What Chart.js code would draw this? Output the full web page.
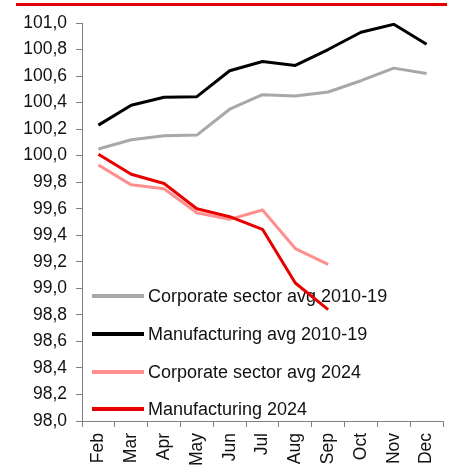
<!DOCTYPE html>
<html>
<head>
<meta charset="utf-8">
<script src="https://cdn.jsdelivr.net/npm/chart.js@4.4.1/dist/chart.umd.min.js"></script>
<style>
  body { margin: 0; background: #fff; }
  #wrap { width: 454px; height: 465px; }
</style>
</head>
<body>
<div id="wrap"><canvas id="lineChart" width="454" height="465"></canvas></div>
<script>
const months = ['Feb', 'Mar', 'Apr', 'May', 'Jun', 'Jul', 'Aug', 'Sep', 'Oct', 'Nov', 'Dec'];
const corpAvg = [100.05, 100.12, 100.15, 100.155, 100.35, 100.46, 100.45, 100.48, 100.565, 100.66, 100.62];
const manuAvg = [100.23, 100.38, 100.44, 100.445, 100.64, 100.71, 100.68, 100.80, 100.93, 100.99, 100.84];
const corp2024 = [99.93, 99.78, 99.75, 99.57, 99.52, 99.59, 99.30, 99.18];
const manu2024 = [100.01, 99.86, 99.79, 99.60, 99.54, 99.445, 99.04, 98.84];
const yTickLabels = ['98,0', '98,2', '98,4', '98,6', '98,8', '99,0', '99,2', '99,4', '99,6', '99,8',
  '100,0', '100,2', '100,4', '100,6', '100,8', '101,0'];

const font = 'Liberation Sans, Arial, sans-serif';

// red rule on top + legend inside the plot area
const decor = {
  id: 'decor',
  beforeDatasetsDraw(chart) {
    const ctx = chart.ctx;
    const area = chart.chartArea;
    ctx.save();
    ctx.fillStyle = '#e30000';
    ctx.fillRect(16, 3, 431, 3);
    const rows = [125, 87, 49, 12];
    ctx.font = '18px ' + font;
    ctx.textBaseline = 'middle';
    chart.data.datasets.forEach(function (ds, i) {
      const y = area.bottom - rows[i];
      ctx.strokeStyle = ds.borderColor;
      ctx.lineWidth = 4;
      ctx.beginPath();
      ctx.moveTo(area.left + 10, y);
      ctx.lineTo(area.left + 62, y);
      ctx.stroke();
      ctx.fillStyle = '#111';
      ctx.fillText(ds.label, area.left + 66, y + 1);
    });
    ctx.restore();
  }
};

const ctx = document.getElementById('lineChart').getContext('2d');
const lineChart = new Chart(ctx, {
  type: 'line',
  data: {
    labels: months,
    datasets: [
      { label: 'Corporate sector avg 2010-19', data: corpAvg, borderColor: '#a8a8a8', order: 3 },
      { label: 'Manufacturing avg 2010-19', data: manuAvg, borderColor: '#000000', order: 2 },
      { label: 'Corporate sector avg 2024', data: corp2024, borderColor: '#ff8e8e', order: 1 },
      { label: 'Manufacturing 2024', data: manu2024, borderColor: '#e60000', order: 0 }
    ]
  },
  options: {
    responsive: false,
    animation: false,
    layout: { padding: { top: 23, right: 9, left: 0, bottom: 0 } },
    elements: {
      line: { borderWidth: 3, tension: 0, borderCapStyle: 'butt', borderJoinStyle: 'round' },
      point: { radius: 0, hoverRadius: 0 }
    },
    plugins: {
      legend: { display: false },
      tooltip: { enabled: false }
    },
    scales: {
      x: {
        offset: true,
        grid: { offset: true, drawOnChartArea: false, tickLength: 6, color: '#808080' },
        border: { color: '#808080', width: 1 },
        ticks: {
          minRotation: 90, maxRotation: 90, padding: 6, autoSkip: false,
          color: '#111', font: { family: font, size: 17.5 }
        },
        afterFit(scale) { scale.height = 44; }
      },
      y: {
        min: 98, max: 101,
        grid: { drawOnChartArea: false, tickLength: 6, color: '#808080' },
        border: { color: '#808080', width: 1 },
        ticks: {
          stepSize: 0.2, padding: 9, color: '#111',
          font: { family: font, size: 17.5 },
          callback: function (v, i) { return yTickLabels[i] !== undefined ? yTickLabels[i] : v; }
        },
        afterFit(scale) { scale.width = 82; }
      }
    }
  },
  plugins: [decor]
});
console.log(lineChart);
</script>
</body>
</html>
